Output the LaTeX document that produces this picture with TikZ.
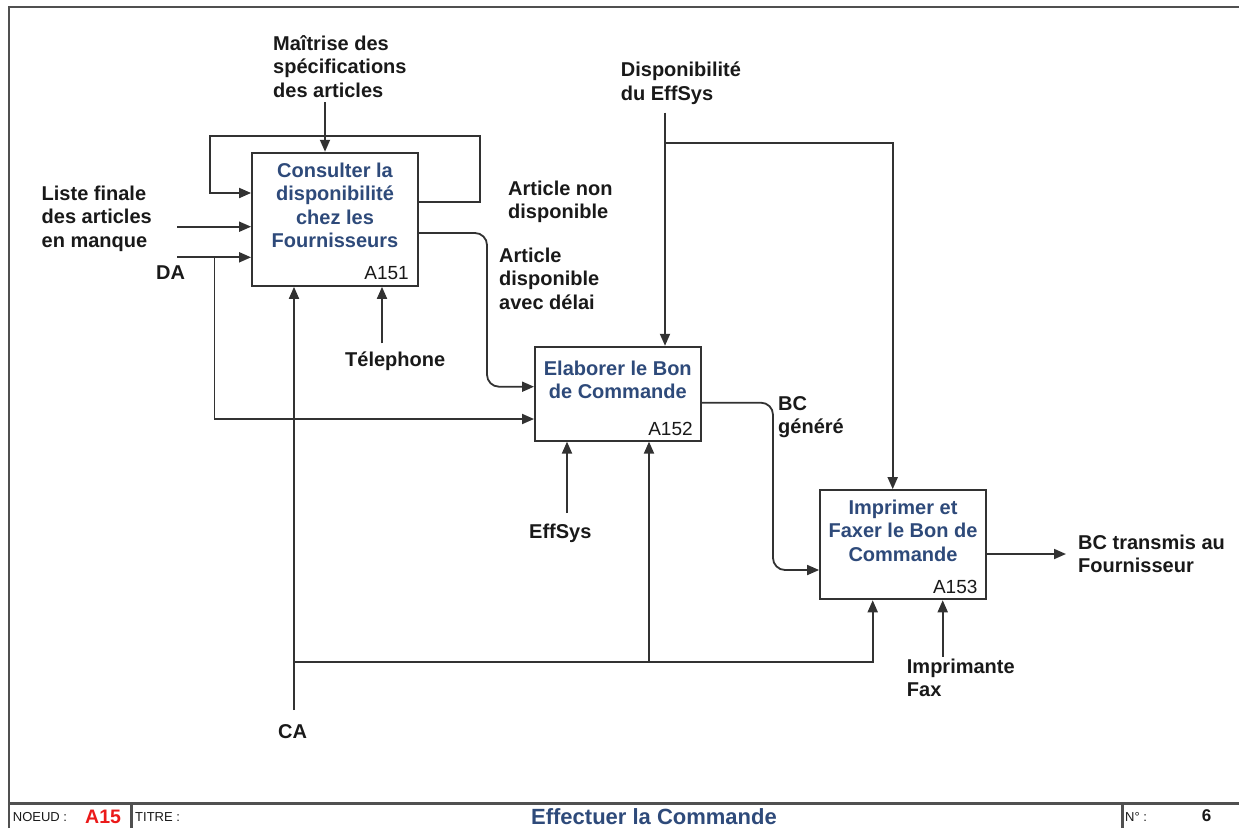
\documentclass[tikz,border=0pt]{standalone}
\usepackage{fontspec}
\setmainfont{Liberation Sans}
\usetikzlibrary{arrows.meta}
\definecolor{procblue}{RGB}{46,74,122}
\definecolor{linegray}{RGB}{50,50,50}
\definecolor{framegray}{RGB}{80,80,80}
\definecolor{labelink}{RGB}{25,25,25}
\definecolor{nodered}{RGB}{235,25,25}
% fixed height for the first line of multi-line labels
\newcommand{\topstrut}{\rule{0pt}{16pt}}

\begin{document}
\begin{tikzpicture}[x=1pt,y=-1pt,
  flow/.style={draw=linegray, line width=1.8pt, -{Triangle[length=12pt,width=10pt]}},
  proc/.style={draw=linegray, line width=1.8pt, fill=white, inner sep=0pt},
  proctext/.style={text=procblue, font=\fontsize{20}{23.5}\selectfont\bfseries, align=center, anchor=north, inner sep=0pt},
  procid/.style={text=labelink, font=\fontsize{19}{20}\selectfont, anchor=base east, inner sep=0pt},
  lbl/.style={text=labelink, font=\fontsize{20}{23.4}\selectfont\bfseries, align=left, anchor=north west, inner sep=0pt},
  lblone/.style={text=labelink, font=\fontsize{20}{23.4}\selectfont\bfseries, anchor=base west, inner sep=0pt},
  frameline/.style={draw=framegray, line width=2.4pt},
  footsmall/.style={text=labelink, font=\fontsize{13}{14}\selectfont, anchor=base west, inner sep=0pt}
]
\useasboundingbox (0,0) rectangle (1239,828);

% sheet frame and footer
\draw[frameline] (9,828) -- (9,7) -- (1239,7);
\draw[frameline] (9,803.3) -- (1239,803.3);
\draw[frameline] (131.5,803.3) -- (131.5,828);
\draw[frameline] (1122.5,803.3) -- (1122.5,828);
\node[footsmall] (noeudlbl) at (12.7,821.7) {NOEUD :};
\node[anchor=base west, inner sep=0pt, text=nodered, font=\fontsize{19.5}{20}\selectfont\bfseries] (noeud) at (85,823.3) {A15};
\node[footsmall] (titrelbl) at (135,821.7) {TITRE :};
\node[anchor=base, inner sep=0pt, text=procblue, font=\fontsize{22}{24}\selectfont\bfseries] (titre) at (654,824) {Effectuer la Commande};
\node[footsmall] (numlbl) at (1125,821.7) {N° :};
\node[anchor=base west, inner sep=0pt, text=labelink, font=\fontsize{17}{18}\selectfont\bfseries] (num) at (1201.7,821.7) {6};

% activity boxes
\node[proc, minimum width=166pt, minimum height=133.3pt] (a151) at (335,219.3) {};
\node[proc, minimum width=165.7pt, minimum height=94pt] (a152) at (617.8,393.7) {};
\node[proc, minimum width=166pt, minimum height=109.3pt] (a153) at (903,544.7) {};

\node[proctext] (t151) at (335,161) {\topstrut Consulter la\\disponibilité\\chez les\\Fournisseurs};
\node[proctext] (t152) at (617.8,359) {\topstrut Elaborer le Bon\\de Commande};
\node[proctext] (t153) at (903,498) {\topstrut Imprimer et\\Faxer le Bon de\\Commande};

\node[procid] (id151) at ([xshift=-10pt,yshift=7.5pt]a151.south east) {A151};
\node[procid] (id152) at ([xshift=-8.7pt,yshift=6.4pt]a152.south east) {A152};
\node[procid] (id153) at ([xshift=-9.3pt,yshift=6.6pt]a153.south east) {A153};

% arrow labels
\node[lbl] (ctl1lbl) at (273,34) {\topstrut Maîtrise des\\spécifications\\des articles};
\node[lbl] (inlbl) at (41.5,184) {\topstrut Liste finale\\des articles\\en manque};
\node[lblone] (dalbl) at (156,279.3) {DA};
\node[lbl] (nonlbl) at (508,179) {\topstrut Article non\\disponible};
\node[lbl] (dellbl) at (499,246) {\topstrut Article\\disponible\\avec délai};
\node[lblone] (tellbl) at (345,366.7) {Télephone};
\node[lbl] (dsplbl) at (620.7,60.7) {\topstrut Disponibilité\\du EffSys};
\node[lbl] (bclbl) at (778,394) {\topstrut BC\\généré};
\node[lblone] (efflbl) at (529,538) {EffSys};
\node[lbl] (outlbl) at (1078,533.3) {\topstrut BC transmis au\\Fournisseur};
\node[lbl] (implbl) at (906.7,657.3) {\topstrut Imprimante\\Fax};
\node[lblone] (calbl) at (278,738) {CA};

% free ends and junctions of the connectors
\coordinate (ctl1) at (325,102);
\coordinate (fbR) at (480,136);
\coordinate (fbL) at (210,136);
\coordinate (in1) at (177,226.7);
\coordinate (inDA) at (177,257.3);
\coordinate (daj) at (214.5,257.3);
\coordinate (dab) at (214.5,419);
\coordinate (delR) at (487,233);
\coordinate (delB) at (487,386.7);
\coordinate (ca) at (294,710);
\coordinate (caj) at (294,661.7);
\coordinate (caj2) at (649,661.7);
\coordinate (cab) at (872.7,661.7);
\coordinate (tel) at (382,343.3);
\coordinate (dsp) at (665,112.7);
\coordinate (dspj) at (665,143.3);
\coordinate (dspk) at (892.7,143.3);
\coordinate (bcR) at (773,402.7);
\coordinate (bcB) at (773,570);
\coordinate (eff) at (567,513);
\coordinate (out) at (1066,554);
\coordinate (imp) at (942.7,656.7);

% A151 connectors
\draw[flow] (ctl1) -- (ctl1 |- a151.north);
\draw[flow] (a151.east |- 0,202) -- (fbR |- 0,202) -- (fbR) -- (fbL) -- (fbL |- 0,193) -- (a151.west |- 0,193);
\draw[flow] (in1) -- (in1 -| a151.west);
\draw[flow] (inDA) -- (inDA -| a151.west);
\draw[flow] (tel) -- (tel |- a151.south);
\draw[flow] (ca) -- (ca |- a151.south);

% A152 connectors
\draw[flow, rounded corners=12pt] (a151.east |- delR) -- (delR) -- (delB) -- (delB -| a152.west);
\draw[flow] (daj) -- (dab) -- (dab -| a152.west);
\draw[flow] (dsp) -- (dsp |- a152.north);
\draw[flow] (eff) -- (eff |- a152.south);
\draw[flow] (caj2) -- (caj2 |- a152.south);

% A153 connectors
\draw[flow, rounded corners=12pt] (a152.east |- bcR) -- (bcR) -- (bcB) -- (bcB -| a153.west);
\draw[flow] (dspj) -- (dspk) -- (dspk |- a153.north);
\draw[flow] (caj) -- (cab) -- (cab |- a153.south);
\draw[flow] (imp) -- (imp |- a153.south);
\draw[flow] (a153.east |- out) -- (out);
\end{tikzpicture}
\end{document}
